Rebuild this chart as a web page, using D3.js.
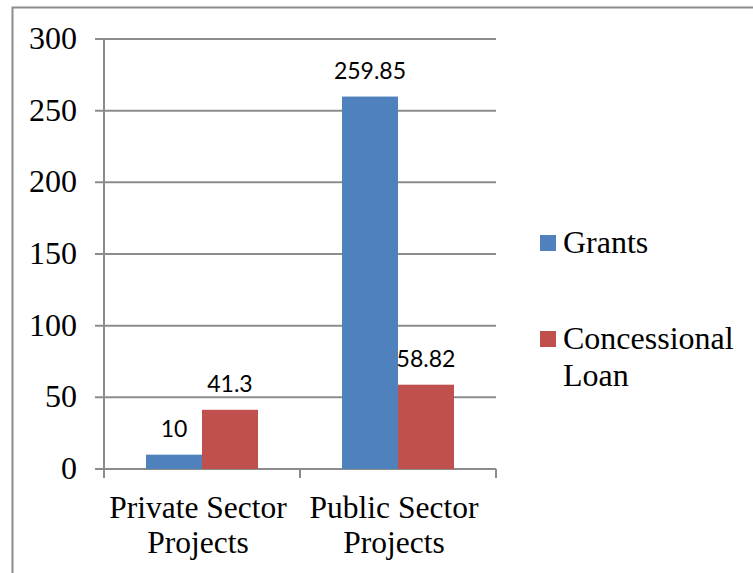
<!DOCTYPE html>
<html><head><meta charset="utf-8">
<script src="https://cdn.jsdelivr.net/npm/d3@7"></script>
<style>body{margin:0;background:#fff}svg{display:block}
.serif{font-family:"Liberation Serif","Times New Roman",serif;font-size:32px;fill:#000}
.cat{font-size:31.5px}
.dl{font-family:Lato,Carlito,sans-serif;font-size:23px;fill:#000}
</style>
</head><body>
<script>
const categories = [["Private Sector","Projects"],["Public Sector","Projects"]];
const seriesNames = [["Grants"], ["Concessional","Loan"]];
const grants = [10, 259.85];
const concessional = [41.3, 58.82];
const labels = [["10","259.85"],["41.3","58.82"]];
const yTicks = [0,50,100,150,200,250,300];
const colors = ["#4f81bd","#c0504d"];

const W=753,H=573;
const svg=d3.select("body").append("svg").attr("width",W).attr("height",H);
svg.append("path").attr("d","M12.5,"+H+"V7.5H"+W).attr("fill","none").attr("stroke","#8c8c8c").attr("stroke-width",2);

const x0=104,x1=496,yTop=39,yBot=469;
const y=d3.scaleLinear().domain([0,300]).range([yBot,yTop]);
const x=d3.scaleBand().domain(d3.range(categories.length)).range([x0,x1]).paddingInner(0).paddingOuter(0);
const serie=[grants,concessional];

const g=svg.append("g");
g.selectAll("line.grid").data(yTicks).enter().append("line")
 .attr("x1",95).attr("x2",x1).attr("y1",d=>y(d)).attr("y2",d=>y(d))
 .attr("stroke","#8c8c8c").attr("stroke-width",2);
g.append("line").attr("x1",x0).attr("x2",x0).attr("y1",yTop).attr("y2",yBot+9).attr("stroke","#8c8c8c").attr("stroke-width",2);
[x0+x.bandwidth(),x1].forEach(v=>g.append("line").attr("x1",v).attr("x2",v).attr("y1",yBot).attr("y2",yBot+9).attr("stroke","#8c8c8c").attr("stroke-width",2));

svg.selectAll("text.yt").data(yTicks).enter().append("text").attr("class","serif")
 .attr("x",77).attr("y",d=>y(d)+10).attr("text-anchor","end").text(d=>d);

const bw=x.bandwidth()/3.5;
serie.forEach((s,si)=>{
  s.forEach((v,ci)=>{
    const bx=x(ci)+x.bandwidth()*0.75/3.5+si*bw;
    svg.append("rect").attr("x",bx).attr("y",y(v)).attr("width",bw).attr("height",yBot-y(v)).attr("fill",colors[si]);
    svg.append("text").attr("class","dl").attr("x",bx+bw/2).attr("y",y(v)-18).attr("text-anchor","middle").text(labels[si][ci]);
  });
});

categories.forEach((c,ci)=>{
  c.forEach((line,li)=>svg.append("text").attr("class","serif cat").attr("text-anchor","middle")
    .attr("x",x(ci)+x.bandwidth()/2-4).attr("y",518+li*35).text(line));
});

const legY=[253,349];
seriesNames.forEach((lines,i)=>{
  svg.append("rect").attr("x",540).attr("y",legY[i]-18).attr("width",16).attr("height",16).attr("fill",colors[i]);
  lines.forEach((s,j)=>svg.append("text").attr("class","serif").attr("x",563).attr("y",legY[i]+j*37).text(s));
});
</script>
</body></html>
